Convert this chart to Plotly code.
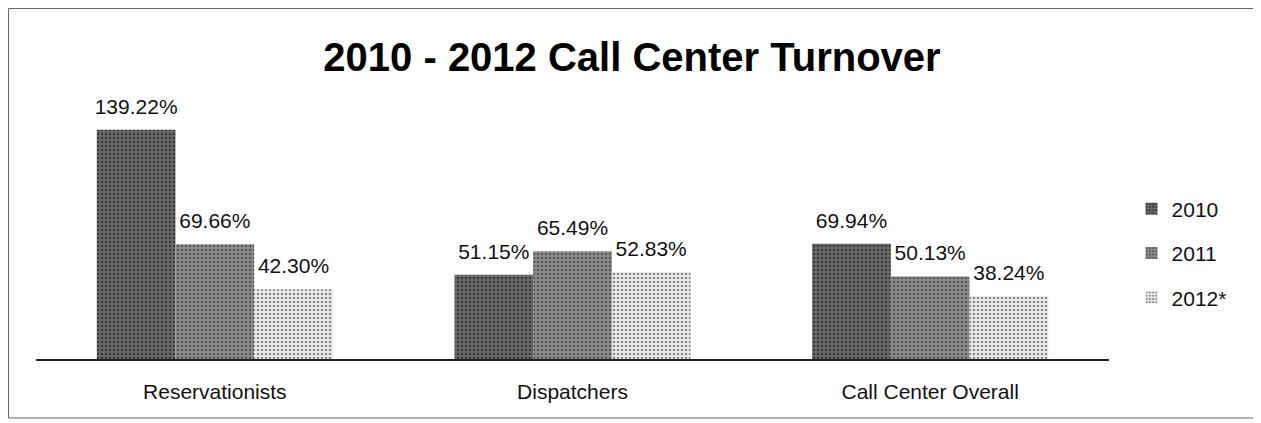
import plotly.graph_objects as go

categories = ["Reservationists", "Dispatchers", "Call Center Overall"]
years = ["2010", "2011", "2012*"]
turnover_2010 = [139.22, 51.15, 69.94]
turnover_2011 = [69.66, 65.49, 50.13]
turnover_2012 = [42.30, 52.83, 38.24]

series = [turnover_2010, turnover_2011, turnover_2012]
bg_colors = ["#6a6a6a", "#8c8c8c", "#ececec"]
fg_colors = ["#3a3a3a", "#5a5a5a", "#8a8a8a"]

FONT = "Liberation Sans, Arial, sans-serif"

fig = go.Figure()

for i, (name, vals) in enumerate(zip(years, series)):
    fig.add_trace(go.Bar(
        x=categories, y=vals, name=name,
        legendgroup=name,
        marker=dict(color=bg_colors[i], line_width=0,
                    pattern=dict(shape=".", fgcolor=fg_colors[i], bgcolor=bg_colors[i],
                                 size=4, solidity=0.35, fillmode="replace")),
        hoverinfo="skip",
    ))

# value labels, pushed up above the bars via an invisible marker
for i, (name, vals) in enumerate(zip(years, series)):
    fig.add_trace(go.Scatter(
        x=categories, y=vals,
        mode="markers+text",
        text=[f"{v:.2f}%" for v in vals],
        textposition="top center",
        textfont=dict(size=21, color="#111", family=FONT),
        marker=dict(size=16, opacity=0),
        cliponaxis=False,
        showlegend=False, hoverinfo="skip",
    ))

# the page body adds an 8px margin, so the figure is sized 8px smaller on each side
fig.update_layout(
    width=1253, height=415,
    margin=dict(l=28, r=152, t=104, b=64),
    paper_bgcolor="white", plot_bgcolor="white",
    barmode="group", bargap=0.34, bargroupgap=0,
    scattermode="group", scattergap=0.34,
    font=dict(family=FONT, size=21, color="#111"),
    title=dict(text="<b>2010 - 2012 Call Center Turnover</b>",
               font=dict(size=40, family=FONT, color="#000"),
               x=(632 - 8) / 1253, xref="container", xanchor="center",
               y=1 - 49 / 415, yref="container", yanchor="middle"),
    xaxis=dict(showline=True, linecolor="#222", linewidth=1.5, ticks="",
               showgrid=False, ticklabelstandoff=13,
               tickfont=dict(size=21, family=FONT, color="#111")),
    yaxis=dict(range=[0, 150], visible=False, showgrid=False, zeroline=False),
    legend=dict(x=1.021, xanchor="left", y=0.69, yanchor="top",
                traceorder="grouped", tracegroupgap=14,
                font=dict(size=21, family=FONT, color="#111"),
                itemwidth=30, bgcolor="rgba(0,0,0,0)"),
    showlegend=True,
)

# scanned frame around the chart
fig.add_shape(type="rect", xref="paper", yref="paper",
              x0=-0.0256, x1=1.1351, y0=-0.2389, y1=1.419,
              line=dict(color="#666", width=1))

fig.write_html("out.html")
